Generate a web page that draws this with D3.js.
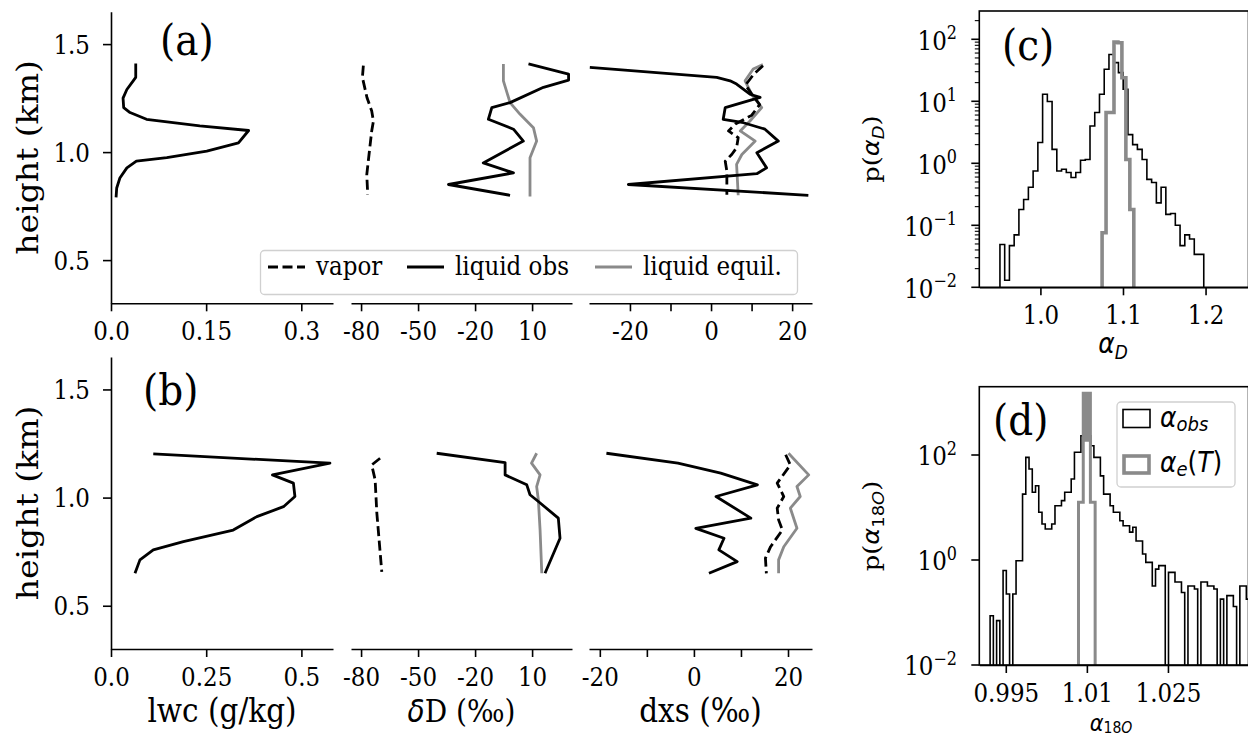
<!DOCTYPE html>
<html><head><meta charset="utf-8">
<script src="https://cdn.jsdelivr.net/npm/d3@7"></script>
<style>
body{margin:0;background:#fff;}
svg text{font-family:"DejaVu Serif",serif;fill:#000;}
</style></head><body>
<svg id="fig" width="1248" height="738"></svg>
<script>
// ---- data: vertical profiles (height in km) ----
const hDomain = [0.3, 1.65];
const hTicks = [0.5, 1.0, 1.5];

// panel (a)
const lwcA_h = [1.41,1.346,1.33,1.29,1.25,1.206,1.183,1.152,1.121,1.10,1.043,1.005,0.974,0.958,0.927,0.88,0.834,0.79];
const lwcA   = [0.039,0.039,0.035,0.025,0.019,0.020,0.030,0.056,0.140,0.217,0.201,0.151,0.088,0.040,0.025,0.014,0.009,0.008];
const dDvapA_h = [1.40,1.346,1.253,1.19,1.144,1.098,1.005,0.896,0.803];
const dDvapA   = [-78.8,-79.3,-76.9,-74.4,-73.5,-74.4,-75.6,-77.0,-76.5];
const dDliqA_h = [1.408,1.361,1.333,1.30,1.229,1.206,1.152,1.106,1.051,0.95,0.904,0.85,0.80];
const dDliqA   = [8.1,29.2,29.2,16.0,-1.6,-11.2,-13,0.2,5.4,-15.7,0.2,-34,-1.6];
const dDeqA_h = [1.408,1.33,1.229,1.175,1.113,1.051,0.974,0.795];
const dDeqA   = [-5.1,-5.1,-1.6,3.7,10.7,12.4,8.9,8.9];
const dxsLiqA_h = [1.392,1.346,1.33,1.315,1.268,1.253,1.206,1.152,1.136,1.106,1.051,0.997,0.927,0.90,0.85,0.80];
const dxsLiqA   = [-29.9,1.4,4.7,6.3,9.6,12.1,3.5,3.0,8.0,13.3,16.6,11.3,13.7,11.3,-20.4,24.0];
const dxsVapA_h = [1.40,1.36,1.31,1.27,1.22,1.17,1.13,1.098,1.067,1.02,0.989,0.958,0.912,0.803];
const dxsVapA   = [12.8,10.5,8.5,10,12,10,6,4.3,6.7,6.3,5.1,3.5,3.9,3.9];
const dxsEqA_h = [1.405,1.385,1.33,1.268,1.206,1.144,1.098,1.051,0.989,0.943,0.80];
const dxsEqA   = [12.8,10.4,8.4,10.0,12.5,9.6,7.2,10.9,7.6,6.3,6.7];

// panel (b)
const lwcB_h = [1.202,1.159,1.105,1.067,1.005,0.958,0.912,0.85,0.796,0.758,0.712,0.65];
const lwcB   = [0.111,0.575,0.424,0.479,0.483,0.453,0.383,0.321,0.190,0.111,0.076,0.063];
const dDvapB_h = [1.182,1.151,1.082,0.928,0.657];
const dDvapB   = [-70,-74.4,-72.6,-71.7,-69.1];
const dDliqB_h = [1.205,1.162,1.105,1.059,1.013,0.982,0.905,0.812,0.65];
const dDliqB   = [-40.2,-4.2,-4.2,7.2,8.9,13.3,23.8,24.7,16.8];
const dDeqB_h = [1.205,1.159,1.105,1.051,0.989,0.85,0.65];
const dDeqB   = [12.4,9.7,14.2,12.4,13.3,14.2,15.1];
const dxsLiqB_h = [1.205,1.159,1.113,1.059,1.005,0.905,0.858,0.812,0.758,0.704,0.65];
const dxsLiqB   = [-18.6,-3.4,5.7,13.5,4.7,12.1,0.4,6.4,5.3,9.2,3.2];
const dxsVapB_h = [1.198,1.151,1.067,1.005,0.951,0.897,0.85,0.773,0.72,0.65];
const dxsVapB   = [19.5,20.5,17.7,19.1,17.7,18.0,18.8,16.3,15.2,15.4];
const dxsEqB_h = [1.205,1.105,1.051,1.005,0.951,0.858,0.773,0.712,0.65];
const dxsEqB   = [20.1,24.4,21.9,22.6,20.5,21.9,19.1,18.0,18.0];

// x limits / ticks of the profile columns
const lwcDomA = [0, 0.35], lwcTicksA = [0, 0.15, 0.3], lwcLabA = ['0.0','0.15','0.3'];
const lwcDomB = [0, 0.583], lwcTicksB = [0, 0.25, 0.5], lwcLabB = ['0.0','0.25','0.5'];
const dDDom = [-85.3, 31], dDTicks = [-80, -50, -20, 10];
const dxsDomA = [-30.1, 24.9], dxsDomB = [-22.3, 25.1];
const dxsTicks = [-20, -10, 0, 10, 20], dxsLabelled = [-20, 0, 20];

// ---- data: histograms ----
const histC_start = 0.951, histC_width = 0.00574;
const histC_obs = [0.049,0.013,0.047,0.07,0.18,0.26,0.41,0.75,2.16,13,9.9,1.68,0.75,0.8,0.71,0.59,0.71,1.12,1.15,4.0,6.6,13,32.8,57,42,29,15.6,2.9,2.0,1.68,1.15,0.55,0.49,0.23,0.41,0.15,0.155,0.10,0.047,0.07,0.06,0.034,0.034];
const histC_eqStart = 1.0747, histC_eqWidth = 0.0048;
const histC_eq = [0.076,6.6,6.6,90,88,24,1.15,0.18];
const cDomX = [0.926, 1.252], cDomY = [0.01, 286], cTicksX = [1.0, 1.1, 1.2], cTicksY = [-2,-1,0,1,2];

const histD_start = 0.9921, histD_width = 0.0006;
const histD_obs = [0.087,0,0.07,0,0.63,0.225,0,0.225,0.97,0.97,18,90,54,19.5,26,8.1,4.85,3.9,3.9,4.85,
  10.8,10.8,13.5,19.5,19.5,35,113,113,233,337,233,150,90,90,40,18,18,10.8,8.1,8.1,
  5.6,4.5,4.5,3.4,4.2,2.3,2.3,1.3,0.9,0.9,0.32,0.67,0.78,0.78,0,0.58,0.58,0.38,0.38,0.24,
  0,0.32,0.32,0.28,0,0.38,0.38,0.32,0.32,0.28,0,0.18,0,0.21,0.21,0.13,0,0.32,0.32,0.18];
const histD_eqStart = 1.00845, histD_eqWidth = 0.00044;
const histD_eq = [12.6,12.6,1500,190,1500,12.6,12.6];
const dDomX = [0.9901, 1.0399], dDomY = [0.01, 2000], dTicksX = [0.995, 1.01, 1.025], dTicksY = [-2,0,2];

const GRAY = '#8a8a8a';
const K = 1.12;   // the reference glyphs are a bit taller than wide
const svg = d3.select('#fig');
svg.append('rect').attr('width',1248).attr('height',738).attr('fill','#fff');

function bottomAxis(sc, y0, vals, fmt){
  const g = svg.append('g').attr('transform',`translate(0,${y0})`)
    .call(d3.axisBottom(sc).tickValues(vals).tickFormat(fmt).tickSize(8).tickSizeOuter(0));
  g.attr('font-family','DejaVu Serif').attr('font-size',23);
  g.selectAll('path,line').attr('stroke-width',1.6);
  g.selectAll('.tick text').attr('y',37).attr('dy',null);
  return g;
}
function leftAxisLin(sc, x0){
  const g = svg.append('g').attr('transform',`translate(${x0},0)`)
    .call(d3.axisLeft(sc).tickValues(hTicks).tickFormat(d3.format('.1f')).tickSize(8).tickSizeOuter(0));
  g.attr('font-family','DejaVu Serif').attr('font-size',23);
  g.selectAll('path,line').attr('stroke-width',1.6);
  g.selectAll('.tick text').attr('x',-21).attr('y',9).attr('dy',null);
}
function profile(xs, ys, hs, vs, color, dash){
  const pts = hs.map((h,i)=>[vs[i], h]);
  svg.append('path').datum(pts)
    .attr('d', d3.line().x(d=>xs(d[0])).y(d=>ys(d[1])))
    .attr('fill','none').attr('stroke',color).attr('stroke-width',2.8)
    .attr('stroke-linejoin','round')
    .attr('stroke-dasharray', dash ? '10,4.5' : null);
}
function rotLabel(cx, cy, size){
  return svg.append('text').attr('class','rot')
    .attr('transform',`translate(${cx},${cy}) scale(1,${K}) rotate(-90)`)
    .attr('text-anchor','middle').attr('font-size',size);
}

function profileRow(top, bottom, lwcDom, lwcTicks, lwcLab, dxsDom, rows){
  const y = d3.scaleLinear().domain(hDomain).range([bottom, top]);
  const xl = d3.scaleLinear().domain(lwcDom).range([111, 333]);
  const xd = d3.scaleLinear().domain(dDDom).range([351, 572]);
  const xx = d3.scaleLinear().domain(dxsDom).range([589, 812]);
  leftAxisLin(y, 111);
  bottomAxis(xl, bottom, lwcTicks, (d,i)=>lwcLab[i]);
  bottomAxis(xd, bottom, dDTicks, d=>String(d));
  bottomAxis(xx, bottom, dxsTicks, d=>dxsLabelled.includes(d) ? String(d) : '');
  profile(xl, y, rows.lwc[0], rows.lwc[1], '#000', false);
  profile(xd, y, rows.dDvap[0], rows.dDvap[1], '#000', true);
  profile(xd, y, rows.dDeq[0], rows.dDeq[1], GRAY, false);
  profile(xd, y, rows.dDliq[0], rows.dDliq[1], '#000', false);
  profile(xx, y, rows.dxsEq[0], rows.dxsEq[1], GRAY, false);
  profile(xx, y, rows.dxsVap[0], rows.dxsVap[1], '#000', true);
  profile(xx, y, rows.dxsLiq[0], rows.dxsLiq[1], '#000', false);
  rotLabel(38, (top+bottom)/2, 29.5).text('height (km)');
}

profileRow(11.7, 303.3, lwcDomA, lwcTicksA, lwcLabA, dxsDomA, {
  lwc:[lwcA_h,lwcA], dDvap:[dDvapA_h,dDvapA], dDliq:[dDliqA_h,dDliqA], dDeq:[dDeqA_h,dDeqA],
  dxsVap:[dxsVapA_h,dxsVapA], dxsLiq:[dxsLiqA_h,dxsLiqA], dxsEq:[dxsEqA_h,dxsEqA]});
profileRow(357, 649, lwcDomB, lwcTicksB, lwcLabB, dxsDomB, {
  lwc:[lwcB_h,lwcB], dDvap:[dDvapB_h,dDvapB], dDliq:[dDliqB_h,dDliqB], dDeq:[dDeqB_h,dDeqB],
  dxsVap:[dxsVapB_h,dxsVapB], dxsLiq:[dxsLiqB_h,dxsLiqB], dxsEq:[dxsEqB_h,dxsEqB]});

// panel letters
[['(a)',160,55],['(b)',143,405],['(c)',1002,60],['(d)',993,435]].forEach(([t,x,y])=>{
  svg.append('text').attr('x',x).attr('y',y).attr('font-size',39).text(t);
});

// legend (a)
const lg = svg.append('g');
lg.append('rect').attr('x',260.5).attr('y',250.5).attr('width',537).attr('height',44).attr('rx',4)
  .attr('fill','#fff').attr('fill-opacity',0.8).attr('stroke','#d0d0d0').attr('stroke-width',1.3);
[['vapor',268,'#000',true],['liquid obs',407,'#000',false],['liquid equil.',595,GRAY,false]].forEach(([t,x,c,dash])=>{
  lg.append('line').attr('x1',x).attr('x2',x+37).attr('y1',267).attr('y2',267)
    .attr('stroke',c).attr('stroke-width',2.8).attr('stroke-dasharray',dash?'10,4.5':null);
  lg.append('text').attr('x',x+48).attr('y',275).attr('font-size',23).text(t);
});

// bottom x labels of profile columns
function mathText(sel, parts){
  parts.forEach(p=>{
    const ts = sel.append('tspan').text(p.t);
    if(p.m){ ts.attr('font-family','DejaVu Sans').attr('font-style','italic'); }
    if(p.s){ ts.attr('font-family','DejaVu Sans'); }
    if(p.fs) ts.attr('font-size',p.fs);
    if(p.dy) ts.attr('dy',p.dy);
  });
  return sel;
}
svg.append('text').attr('x',222).attr('y',722).attr('text-anchor','middle').attr('font-size',29.5).text('lwc (g/kg)');
mathText(svg.append('text').attr('x',461.5).attr('y',722).attr('text-anchor','middle').attr('font-size',28),
  [{t:'\u03b4',m:true},{t:'D (\u2030)'}]);
svg.append('text').attr('x',700.5).attr('y',722).attr('text-anchor','middle').attr('font-size',29.5).text('dxs (\u2030)');

// ---- histogram panels ----
function stepPath(x, y, start, w, vals, bottom){
  const p = d3.path();
  p.moveTo(x(start), bottom + 4);
  vals.forEach((v,i)=>{
    const yy = v > 0 ? y(v) : bottom + 4;
    p.lineTo(x(start + i*w), yy);
    p.lineTo(x(start + (i+1)*w), yy);
  });
  p.lineTo(x(start + vals.length*w), bottom + 4);
  return p.toString();
}

function histPanel(id, top, bottom, domX, domY, ticksX, fmtX, ticksY, minor, obs, eq, eqWidth){
  const left = 979.3, right = 1248.5;
  const x = d3.scaleLinear().domain(domX).range([left, right]);
  const y = d3.scaleLog().domain(domY).range([bottom, top]);
  svg.append('clipPath').attr('id',id).append('rect')
    .attr('x',left).attr('y',top).attr('width',right-left).attr('height',bottom-top);
  const g = svg.append('g').attr('clip-path',`url(#${id})`);
  g.append('path').attr('d',stepPath(x,y,obs.start,obs.w,obs.v,bottom))
    .attr('fill','none').attr('stroke','#000').attr('stroke-width',1.6);
  g.append('path').attr('d',stepPath(x,y,eq.start,eq.w,eq.v,bottom))
    .attr('fill','none').attr('stroke',GRAY).attr('stroke-width',eqWidth);
  svg.append('rect').attr('x',left).attr('y',top).attr('width',right-left).attr('height',bottom-top)
    .attr('fill','none').attr('stroke','#000').attr('stroke-width',1.6);
  bottomAxis(x, bottom, ticksX, fmtX);
  const ya = svg.append('g');
  ticksY.forEach(k=>{
    const yy = y(Math.pow(10,k));
    ya.append('line').attr('x1',left-8).attr('x2',left).attr('y1',yy).attr('y2',yy).attr('stroke','#000').attr('stroke-width',1.6);
    const t = ya.append('text').attr('x',957).attr('y',yy+10.5).attr('text-anchor','end').attr('font-size',23);
    t.append('tspan').text('10');
    t.append('tspan').attr('dy',-9.5).attr('font-size',16).text(k < 0 ? '\u2212' + (-k) : String(k));
  });
  if(minor){
    for(let k=-2;k<=2;k++){
      for(let m=2;m<=9;m++){
        const v = m*Math.pow(10,k);
        if(v > domY[1]) continue;
        const yy = y(v);
        ya.append('line').attr('x1',left-4.5).attr('x2',left).attr('y1',yy).attr('y2',yy).attr('stroke','#000').attr('stroke-width',1.1);
      }
    }
  }
}

histPanel('clipC', 11, 287.3, cDomX, cDomY, cTicksX, d3.format('.1f'), cTicksY, true,
  {start:histC_start, w:histC_width, v:histC_obs}, {start:histC_eqStart, w:histC_eqWidth, v:histC_eq}, 3.6);
histPanel('clipD', 386.7, 665, dDomX, dDomY, dTicksX, d=>String(+d.toFixed(3)), dTicksY, false,
  {start:histD_start, w:histD_width, v:histD_obs}, {start:histD_eqStart, w:histD_eqWidth, v:histD_eq}, 3);

// axis labels of histogram panels
mathText(svg.append('text').attr('x',1113).attr('y',353).attr('text-anchor','middle').attr('font-size',25),
  [{t:'\u03b1',m:true},{t:'D',m:true,fs:17,dy:5}]);
mathText(svg.append('text').attr('x',1111).attr('y',731).attr('text-anchor','middle').attr('font-size',21),
  [{t:'\u03b1',m:true},{t:'18',fs:14,dy:2,s:true},{t:'O',m:true,fs:14}]);
mathText(rotLabel(879, 149, 23), [{t:'p('},{t:'\u03b1',m:true},{t:'D',m:true,fs:16,dy:5},{t:')',dy:-5}]);
mathText(rotLabel(879, 526, 23), [{t:'p('},{t:'\u03b1',m:true},{t:'18',fs:16,dy:5,s:true},{t:'O',m:true,fs:16},{t:')',dy:-5}]);

// legend (d)
const ld = svg.append('g');
ld.append('rect').attr('x',1117).attr('y',402).attr('width',118).attr('height',85).attr('rx',4)
  .attr('fill','#fff').attr('fill-opacity',0.8).attr('stroke','#d0d0d0').attr('stroke-width',1.3);
ld.append('rect').attr('x',1123).attr('y',409.5).attr('width',27).attr('height',18)
  .attr('fill','none').attr('stroke','#000').attr('stroke-width',1.6);
ld.append('rect').attr('x',1124).attr('y',456).attr('width',25).attr('height',17)
  .attr('fill','none').attr('stroke',GRAY).attr('stroke-width',3.6);
mathText(ld.append('text').attr('x',1160).attr('y',427).attr('font-size',25),
  [{t:'\u03b1',m:true},{t:'obs',m:true,fs:18,dy:4}]);
mathText(ld.append('text').attr('x',1160).attr('y',472).attr('font-size',25),
  [{t:'\u03b1',m:true},{t:'e',m:true,fs:18,dy:4},{t:'(',dy:-4,s:true},{t:'T',m:true},{t:')',s:true}]);

// stretch all horizontal text vertically about its baseline
svg.selectAll('text').filter(function(){ return !this.classList.contains('rot'); }).each(function(){
  const t = d3.select(this);
  const y = +t.attr('y') || 0;
  t.attr('transform',`translate(0,${y}) scale(1,${K}) translate(0,${-y})`);
});
</script>
</body></html>
